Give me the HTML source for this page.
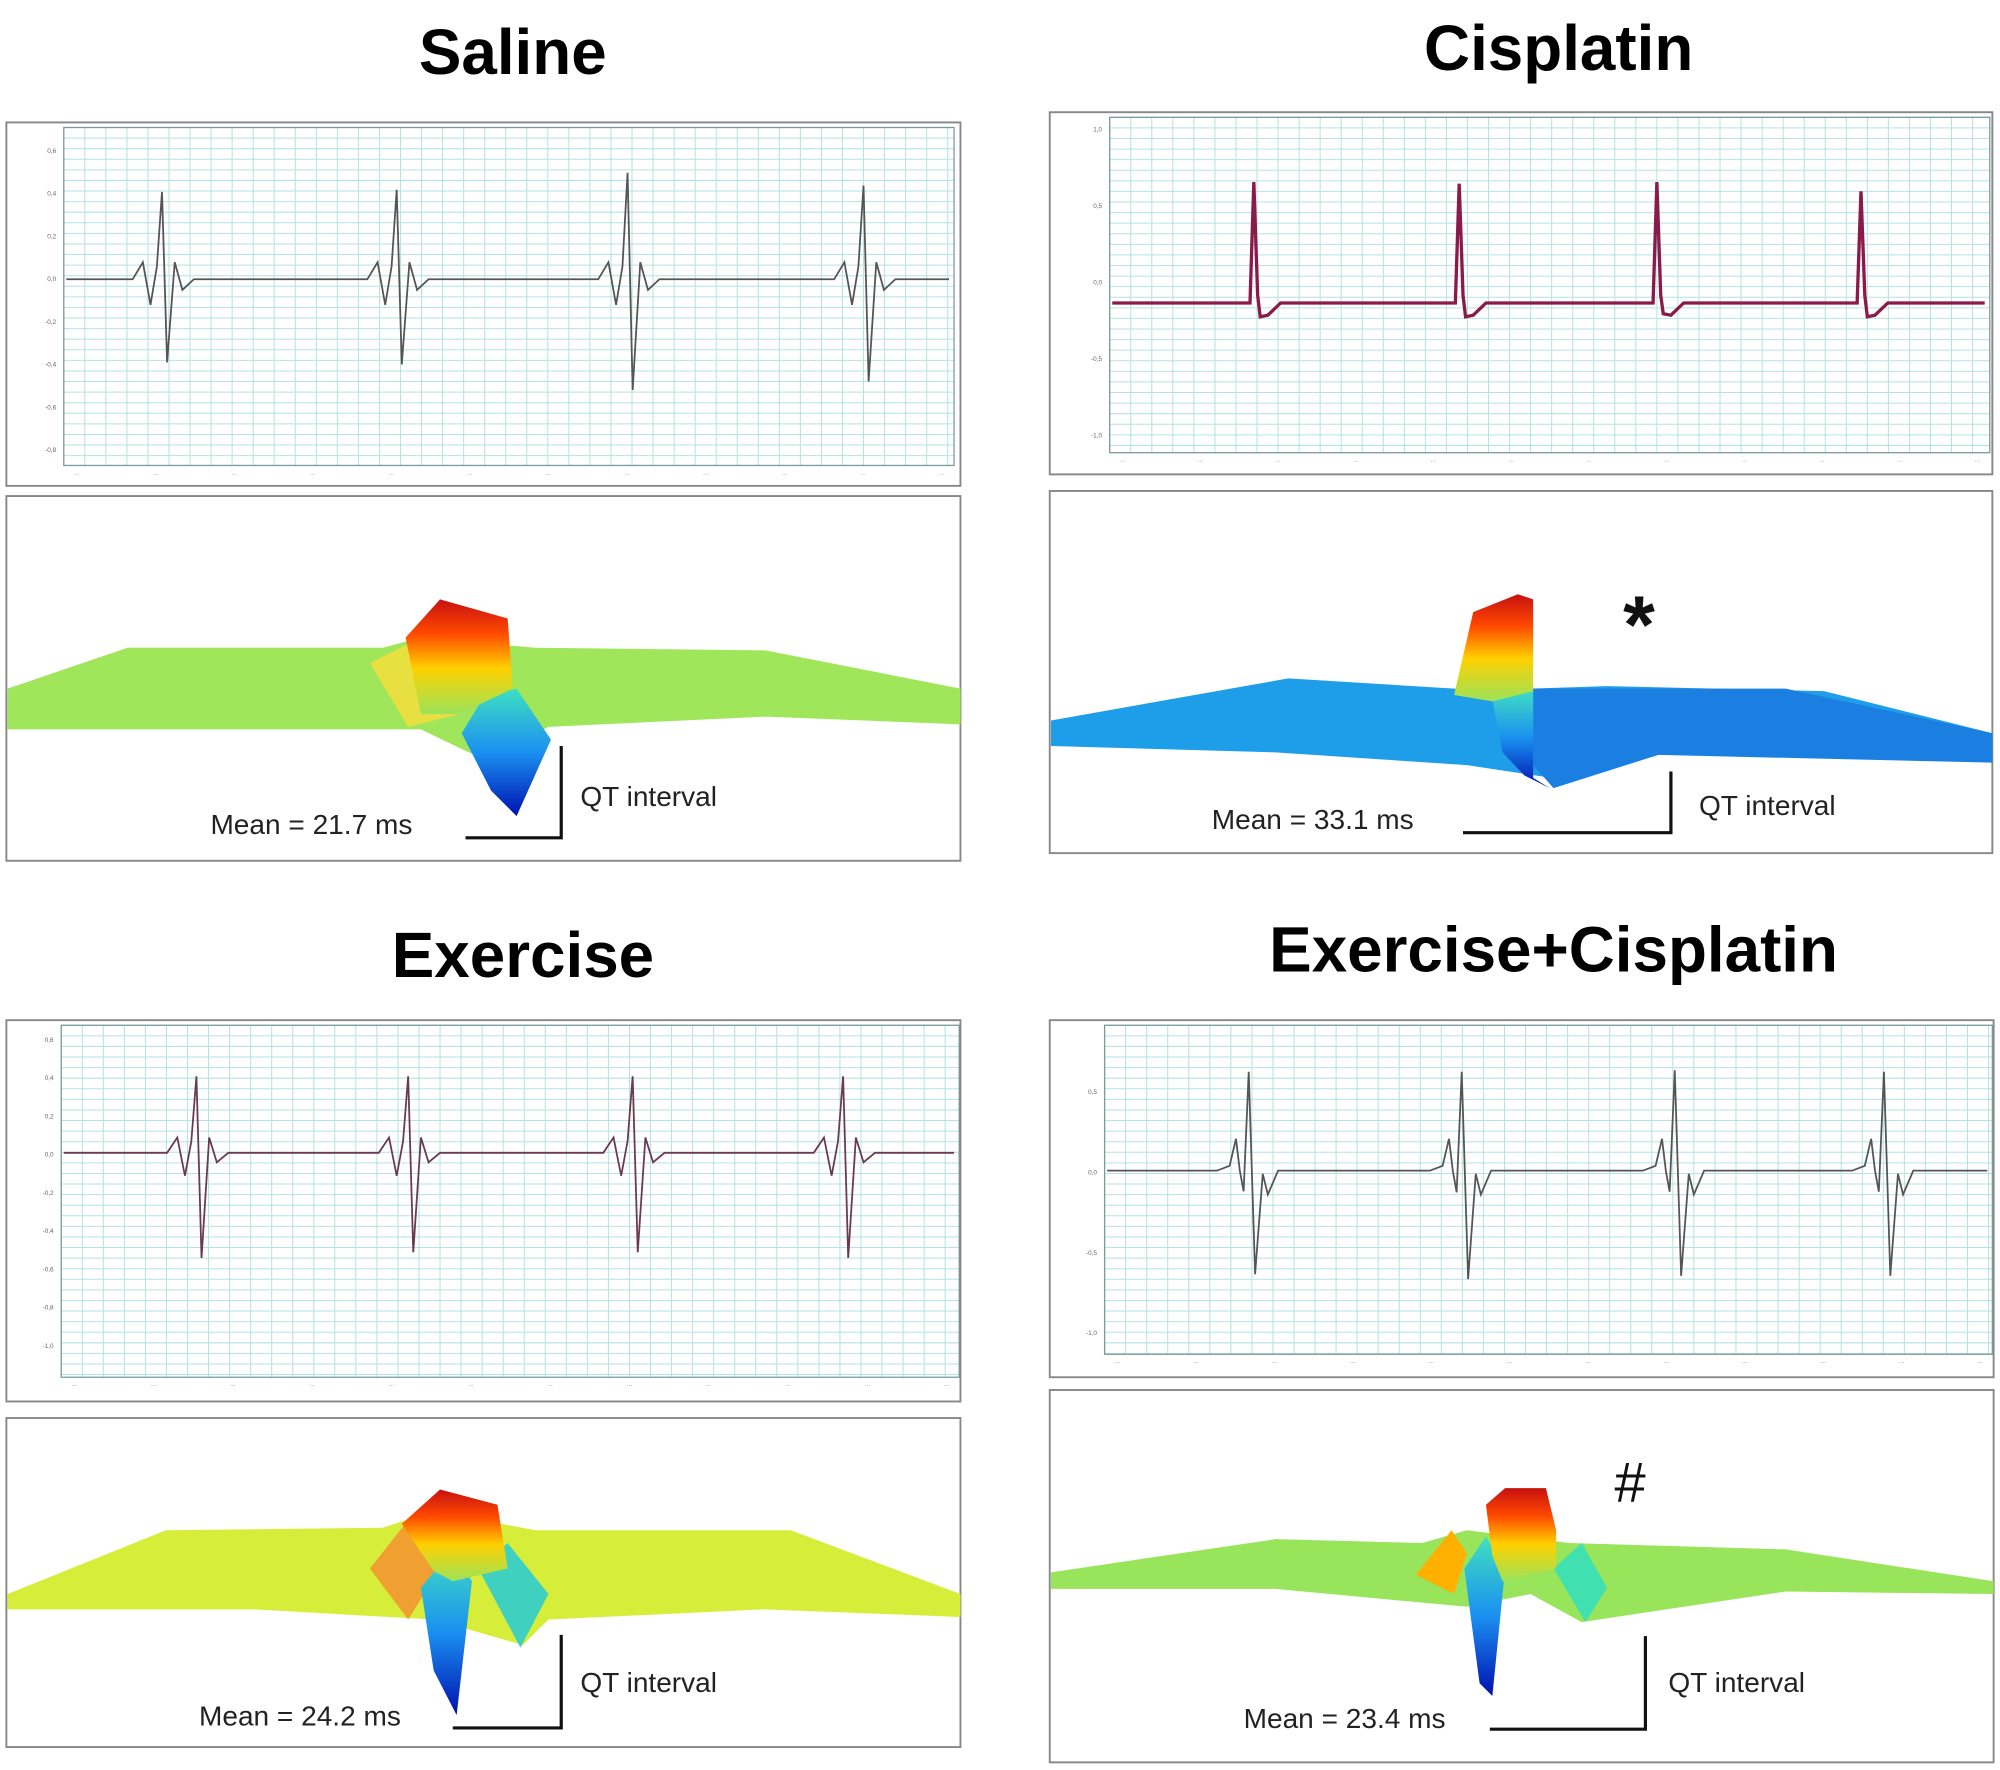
<!DOCTYPE html>
<html><head><meta charset="utf-8">
<style>
html,body{margin:0;padding:0;background:#fff;}
svg{display:block;}
text{font-family:"Liberation Sans",sans-serif;}
</style></head>
<body>
<svg id="fig" width="2000" height="1770" viewBox="0 0 1568 1388" preserveAspectRatio="none" xmlns="http://www.w3.org/2000/svg">
<defs>
  <linearGradient id="peakGrad" x1="0" y1="0" x2="0" y2="1">
    <stop offset="0" stop-color="#c81010"/><stop offset="0.3" stop-color="#ff4a00"/>
    <stop offset="0.6" stop-color="#ffd000"/><stop offset="1" stop-color="#9be35a"/>
  </linearGradient>
  <linearGradient id="dipGrad" x1="0" y1="0" x2="0" y2="1">
    <stop offset="0" stop-color="#40e0c0"/><stop offset="0.5" stop-color="#1a90f0"/>
    <stop offset="1" stop-color="#0010b0"/>
  </linearGradient>
</defs>
<g id="root"></g>
<text x="402" y="58" text-anchor="middle" font-size="50" font-weight="bold">Saline</text>
<text x="1222" y="55" text-anchor="middle" font-size="50" font-weight="bold">Cisplatin</text>
<text x="410" y="766" text-anchor="middle" font-size="50" font-weight="bold">Exercise</text>
<text x="1218" y="762" text-anchor="middle" font-size="50" font-weight="bold">Exercise+Cisplatin</text>
</svg>
<script>
// ECG data (value units, mV) per panel
const salineBeats=[128,312,493,678];
const salineR=[0.41,0.42,0.5,0.44];
const salineS=[-0.39,-0.4,-0.52,-0.48];
const cisBeats=[984,1145,1300,1460];
const cisR=[0.66,0.65,0.66,0.6];
const cisS=[-0.22,-0.22,-0.2,-0.22];
const exBeats=[155,321,497,662];
const exR=[0.4,0.4,0.4,0.4];
const exS=[-0.55,-0.52,-0.52,-0.55];
const excBeats=[978,1145,1312,1476];
const excR=[0.62,0.62,0.63,0.62];
const excS=[-0.65,-0.68,-0.66,-0.66];
const salineTicks=["0,6","0,4","0,2","0,0","-0,2","-0,4","-0,6","-0,8"];
const cisTicks=["1,0","0,5","0,0","-0,5","-1,0"];
const exTicks=["0,6","0,4","0,2","0,0","-0,2","-0,4","-0,6","-0,8","-1,0"];
const excTicks=["0,5","0,0","-0,5","-1,0"];
const meanQT=["21.7","33.1","24.2","23.4"];

const NS="http://www.w3.org/2000/svg";
const root=document.getElementById('root');
function mk(tag,attrs,parent){const e=document.createElementNS(NS,tag);for(const k in attrs)e.setAttribute(k,attrs[k]);(parent||root).appendChild(e);return e;}

function ecgPanel(name,box,plot,ticks,tickY0,tickStep,y0,scale,base,beats,R,S,color,style){
  const g=mk('g',{});
  
  
  const fr=mk('rect',{x:box[0],y:box[1],width:box[2]-box[0],height:box[3]-box[1],fill:'#fff',stroke:'#888','stroke-width':1.5},g);
  
  
  const [px0,py0,px1,py1]=plot;
  const grid=mk('g',{stroke:'#b6e2e2','stroke-width':0.8},g);
  
  
  for(let x=px0;x<=px1;x+=16.5) mk('line',{x1:x,y1:py0,x2:x,y2:py1},grid);
  for(let y=py0;y<=py1;y+=8.3) mk('line',{x1:px0,y1:y,x2:px1,y2:y},grid);
  mk('rect',{x:px0,y:py0,width:px1-px0,height:py1-py0,fill:'none',stroke:'#7a9a9a','stroke-width':1},g);
  const yv=v=>y0-v*scale;
  ticks.forEach((t,i)=>{const tx=mk('text',{x:px0-6,y:tickY0+i*tickStep+2,'font-size':5,'text-anchor':'end',fill:'#666'},g);tx.textContent=t;
    });
  for(let i=0;i<12;i++){const tx=mk('text',{x:px0+8+i*(px1-px0-20)/11,y:py1+7,'font-size':4.5,fill:'#666'},g);tx.textContent='…';}
  // waveform
  let pts=[[px0+2,base]];
  beats.forEach((b,i)=>{
    const seq=style==='exc'
      ?[[b-24,base],[b-14,base+0.03],[b-9,base+0.2],[b-6,base],[b-3,base+S[i]*0.2],[b+1,R[i]],[b+6,S[i]],[b+12,base-0.02],[b+16,base-0.15],[b+24,base],[b+34,base]]
      :style==='cis'
      ?[[b-4,base],[b-1,R[i]],[b+2,base+0.05],[b+4,S[i]],[b+10,base-0.08],[b+20,base]]
      :[[b-24,base],[b-16,base+0.08],[b-10,base-0.12],[b-5,base+0.06],[b-1,R[i]],[b+3,S[i]],[b+9,base+0.08],[b+15,base-0.05],[b+24,base]];
    pts=pts.concat(seq);
  });
  pts.push([px1-4,base]);
  const ln=mk('polyline',{points:pts.map(p=>p[0]+','+yv(p[1])).join(' '),fill:'none',stroke:color,'stroke-width':style==='cis'?2.6:1.4},g);
  
  
}
ecgPanel('saline',[5,96,753,381],[50,100,748,365],salineTicks,118,33.5,219,167,0,salineBeats,salineR,salineS,'#555','sal');
ecgPanel('cisplatin',[823,88,1562,372],[870,92,1560,355],cisTicks,101,60,222,120,-0.13,cisBeats,cisR,cisS,'#8a1a4a','cis');
ecgPanel('exercise',[5,800,753,1099],[48,804,752,1080],exTicks,815,30,904,150,0,exBeats,exR,exS,'#6a3a50','ex');
ecgPanel('exercise-cisplatin',[823,800,1563,1080],[866,804,1562,1062],excTicks,856,63,918,125,0,excBeats,excR,excS,'#555','exc');

function surface(name,box,bandColor,band,peak,dip,extra,qt,meanPos,qtPos,mean){
  const g=mk('g',{});
  
  
  mk('rect',{x:box[0],y:box[1],width:box[2]-box[0],height:box[3]-box[1],fill:'#fff',stroke:'#888','stroke-width':1.5},g);
  const b=mk('polygon',{points:band,fill:bandColor},g);
  
  
  (extra||[]).forEach(e=>mk('polygon',{points:e[0],fill:e[1]},g));
  const d=mk('polygon',{points:dip,fill:'url(#dipGrad)'},g);
  
  
  const p=mk('polygon',{points:peak,fill:'url(#peakGrad)'},g);
  
  
  const q=mk('polyline',{points:qt,fill:'none',stroke:'#111','stroke-width':2.5},g);
  
  
  const t1=mk('text',{x:meanPos[0],y:meanPos[1],'font-size':22,fill:'#222'},g);
  t1.textContent='Mean = '+mean+' ms';
  
  
  const t2=mk('text',{x:qtPos[0],y:qtPos[1],'font-size':22,fill:'#222'},g);
  t2.textContent='QT interval';
  
  
}
surface('saline',[5,389,753,675],'#a0e65a',
 '6,540 100,508 300,508 330,500 420,508 600,510 753,540 753,568 600,562 430,570 380,596 330,572 200,572 6,572',
 '318,500 345,470 398,485 402,540 360,560 330,560',
 '362,575 380,545 405,540 432,580 405,640 385,620',
 [['290,520 330,500 360,560 320,570','#e8e040']],
 '440,585 440,657 365,657',[165,654],[455,632],meanQT[0]);
surface('cisplatin',[823,385,1562,669],'#1e9ee8',
 '824,565 1010,532 1140,540 1200,540 1260,538 1430,542 1562,575 1562,598 1420,590 1300,592 1230,612 1150,600 1000,590 824,585',
 '1140,545 1155,480 1190,466 1202,470 1202,542 1170,550',
 '1170,548 1202,540 1202,610 1215,618 1195,608 1178,590',
 [['1202,540 1400,540 1562,575 1562,598 1300,592 1218,618 1202,600','#1a7fe0']],
 '1310,605 1310,653 1147,653',[950,650],[1332,639],meanQT[1]);
surface('exercise',[5,1112,753,1370],'#d6ee3a',
 '6,1250 130,1200 300,1198 340,1185 420,1200 620,1200 753,1250 753,1268 600,1262 430,1270 410,1290 340,1270 200,1262 6,1262',
 '315,1195 345,1168 390,1180 398,1230 355,1240 340,1232',
 '330,1245 355,1215 370,1240 358,1345 340,1310',
 [['290,1230 320,1192 345,1230 320,1270','#f0a030'],['375,1230 398,1210 430,1250 408,1292','#40d0c0']],
 '440,1282 440,1355 355,1355',[156,1353],[455,1327],meanQT[2]);
surface('exercise-cisplatin',[823,1090,1563,1382],'#98e45a',
 '824,1233 1000,1207 1115,1210 1150,1200 1230,1210 1400,1215 1563,1240 1563,1250 1400,1248 1240,1272 1200,1250 1150,1260 1000,1246 824,1246',
 '1165,1180 1180,1167 1212,1167 1220,1200 1220,1230 1178,1240 1170,1220',
 '1148,1230 1165,1205 1180,1230 1170,1330 1160,1320',
 [['1110,1235 1138,1200 1150,1218 1140,1250','#ffb000'],['1218,1230 1240,1210 1260,1245 1243,1272','#40e0b0']],
 '1290,1283 1290,1356 1168,1356',[975,1355],[1308,1327],meanQT[3]);

const star=mk('text',{x:1285,y:512,'font-size':64,'font-weight':'bold','text-anchor':'middle',fill:'#111'});
star.textContent='*';


const hash=mk('text',{x:1278,y:1178,'font-size':44,'text-anchor':'middle',fill:'#111'});
hash.textContent='#';


</script>
</body></html>
